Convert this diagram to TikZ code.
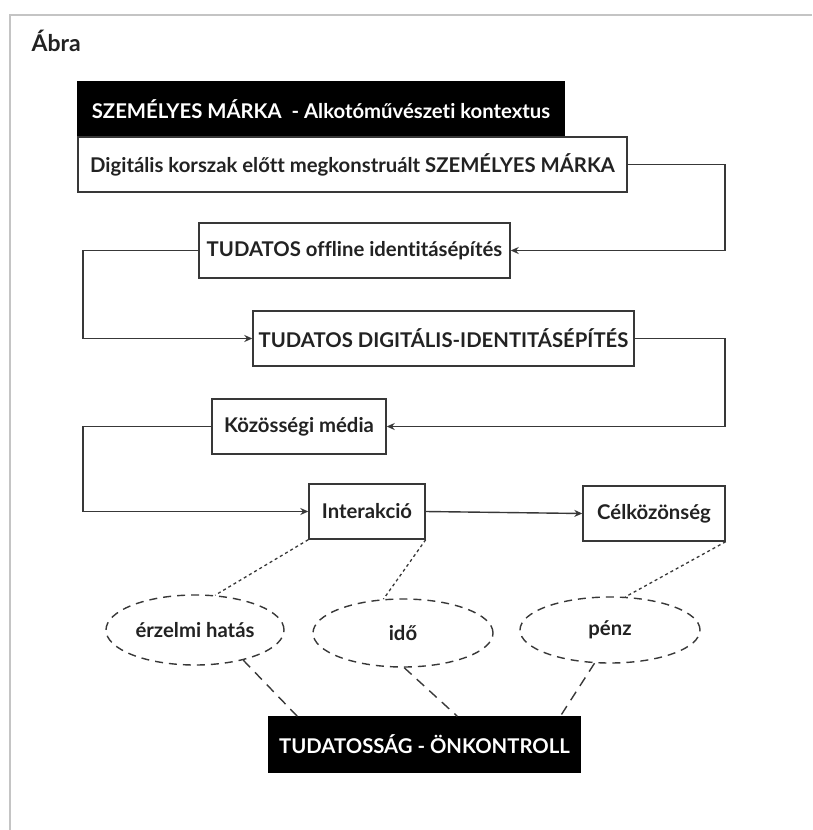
\documentclass[tikz,border=0pt]{standalone}
\usepackage{fontspec}
\setmainfont{Lato}[Ligatures=NoCommon]
\usepackage{tikz}
\usetikzlibrary{arrows.meta, positioning, shapes.geometric, calc}
\definecolor{abraink}{HTML}{222222}
\definecolor{abraline}{HTML}{383838}
\definecolor{abraframe}{HTML}{C4C4C4}
\tikzset{
  >={Stealth[length=8pt, width=7pt]},
  box/.style={rectangle, draw=abraline, line width=1.4pt, fill=white, text=abraink,
              align=center, minimum height=55pt, inner sep=0pt,
              font=\fontsize{20.3}{23}\selectfont\bfseries},
  boxk/.style={box, draw=black, fill=black, text=white},
  oval/.style={ellipse, draw=abraline, line width=1.4pt, dash pattern=on 8pt off 6pt,
               text=abraink, inner sep=0pt, font=\fontsize{20.3}{23}\selectfont\bfseries},
  flow/.style={->, line width=1.4pt, draw=abraline},
  dots/.style={line width=1.3pt, draw=abraline, dash pattern=on 3pt off 3pt},
  dsh/.style={line width=1.4pt, draw=abraline, dash pattern=on 10pt off 7pt},
}
\begin{document}
\begin{tikzpicture}[x=1pt, y=-1pt]
    \useasboundingbox (0,0) rectangle (812,830);
    \draw[abraframe, line width=2pt] (10,830) -- (10,15) -- (812,15);
    \node[anchor=west, text=abraink, font=\fontsize{23}{26}\selectfont\bfseries] (title) at (28,41) {Ábra};
    \coordinate (rgt) at (725,0);
    \coordinate (lft) at (83,0);
    \node[boxk, minimum width=486pt] (head) at (321,109.5) {SZEMÉLYES MÁRKA\ \ - Alkotóművészeti kontextus};
    \node[box, minimum width=549pt] (pre) at (352.5,164.5) {Digitális korszak előtt megkonstruált SZEMÉLYES MÁRKA};
    \node[box, minimum width=311pt] (offline) at (354.5,250.5) {TUDATOS offline identitásépítés};
    \node[box, minimum width=381pt] (digital) at (443.5,338.5) {TUDATOS DIGITÁLIS-IDENTITÁSÉPÍTÉS};
    \node[box, minimum width=174pt] (media) at (299,426.5) {Közösségi média};
    \node[box, minimum width=116pt] (inter) at (367,511.5) {Interakció};
    \node[box, minimum width=142pt] (target) at (654,513.5) {Célközönség};
    \node[oval, minimum width=178pt, minimum height=70pt] (emo) at (195,630) {érzelmi hatás};
    \node[oval, minimum width=180pt, minimum height=68pt] (time) at (403,633) {idő};
    \node[oval, minimum width=180pt, minimum height=66pt] (money) at (610,630) {pénz};
    \node[boxk, minimum width=311pt] (aware) at (424.5,744.5) {TUDATOSSÁG - ÖNKONTROLL};
    \draw[flow] (pre.east) -- (pre.east -| rgt) |- (offline.east);
    \draw[flow] (offline.west) -- (offline.west -| lft) |- (digital.west);
    \draw[flow] (digital.east) -- (digital.east -| rgt) |- (media.east);
    \draw[flow] (media.west) -- (media.west -| lft) |- (inter.west);
    \draw[flow] (inter.east) -- (target.west);
    \draw[dots] (inter.south west) -- (emo.60);
    \draw[dots] (inter.south east) -- (time.120);
    \draw[dots] (target.south east) -- (money.65);
    \draw[dsh] (emo.-32) -- ([xshift=29pt]aware.north west);
    \draw[dsh] (time.-88) -- ([xshift=189pt]aware.north west);
    \draw[dsh] (money.-115) -- ([xshift=292pt]aware.north west);
  \end{tikzpicture}
\end{document}
